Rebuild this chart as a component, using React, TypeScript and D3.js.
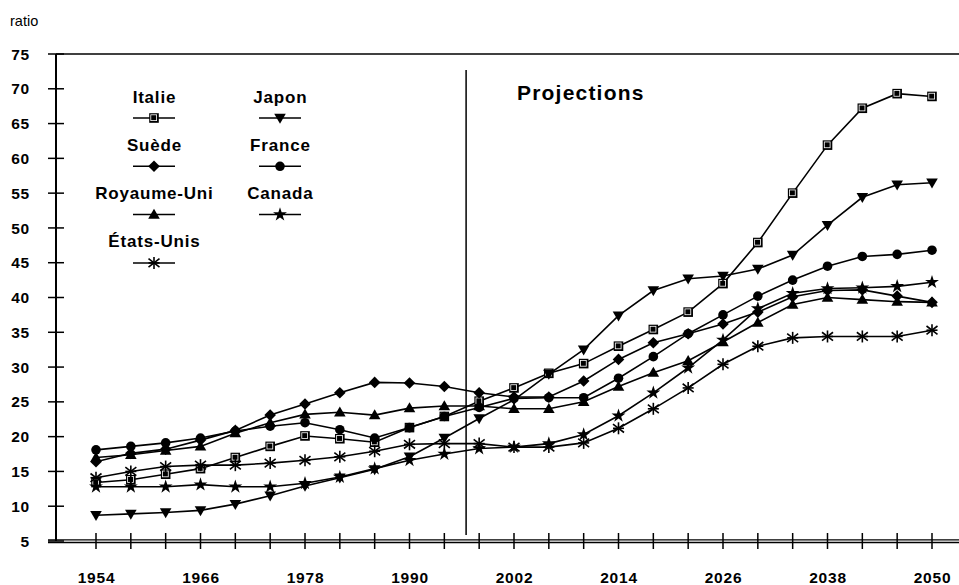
import React from "react";
import * as d3 from "d3";

const years = [1954, 1958, 1962, 1966, 1970, 1974, 1978, 1982, 1986, 1990, 1994, 1998, 2002, 2006, 2010, 2014, 2018, 2022, 2026, 2030, 2034, 2038, 2042, 2046, 2050];

const italie = [13.4, 13.8, 14.6, 15.4, 17.0, 18.6, 20.1, 19.7, 19.2, 21.3, 22.9, 25.1, 27.0, 29.1, 30.5, 33.0, 35.4, 37.9, 42.0, 47.9, 55.0, 61.9, 67.2, 69.3, 68.9];
const japon = [8.7, 8.9, 9.1, 9.4, 10.3, 11.5, 12.9, 14.1, 15.3, 17.1, 19.8, 22.6, 25.3, 29.0, 32.5, 37.4, 41.0, 42.7, 43.1, 44.1, 46.1, 50.4, 54.4, 56.2, 56.5];
const suede = [16.4, 17.6, 18.2, 19.5, 20.9, 23.1, 24.7, 26.3, 27.8, 27.7, 27.2, 26.3, 25.7, 25.7, 28.0, 31.1, 33.5, 34.8, 36.2, 37.9, 40.1, 41.0, 41.1, 40.2, 39.3];
const france = [18.1, 18.6, 19.1, 19.8, 20.8, 21.5, 22.0, 21.0, 19.8, 21.3, 22.9, 24.2, 25.5, 25.6, 25.6, 28.4, 31.5, 34.8, 37.5, 40.2, 42.5, 44.5, 45.9, 46.2, 46.8];
const royaumeUni = [17.0, 17.4, 18.0, 18.6, 20.5, 22.0, 23.2, 23.5, 23.1, 24.1, 24.4, 24.4, 24.0, 24.0, 25.0, 27.2, 29.2, 30.9, 33.6, 36.4, 39.0, 40.0, 39.7, 39.4, 39.3];
const canada = [12.8, 12.8, 12.8, 13.1, 12.8, 12.8, 13.3, 14.2, 15.4, 16.6, 17.5, 18.3, 18.5, 19.0, 20.3, 23.0, 26.3, 29.9, 33.9, 38.4, 40.6, 41.3, 41.4, 41.6, 42.2];
const etatsUnis = [14.1, 15.0, 15.7, 15.9, 15.9, 16.2, 16.6, 17.1, 17.9, 18.9, 19.0, 19.0, 18.5, 18.5, 19.1, 21.2, 24.0, 27.0, 30.4, 33.0, 34.2, 34.4, 34.4, 34.4, 35.3];

const yTicks = [5, 10, 15, 20, 25, 30, 35, 40, 45, 50, 55, 60, 65, 70, 75];
const xLabelYears = [1954, 1966, 1978, 1990, 2002, 2014, 2026, 2038, 2050];
const projectionYear = 1996.5;

type Sym = "square" | "triDown" | "diamond" | "circle" | "triUp" | "star" | "asterisk";

const series: { name: string; values: number[]; sym: Sym }[] = [
  { name: "Italie", values: italie, sym: "square" },
  { name: "Japon", values: japon, sym: "triDown" },
  { name: "Suède", values: suede, sym: "diamond" },
  { name: "France", values: france, sym: "circle" },
  { name: "Royaume-Uni", values: royaumeUni, sym: "triUp" },
  { name: "Canada", values: canada, sym: "star" },
  { name: "États-Unis", values: etatsUnis, sym: "asterisk" },
];

const legendCol1 = ["Italie", "Suède", "Royaume-Uni", "États-Unis"];
const legendCol2 = ["Japon", "France", "Canada"];

const FONT = "'Liberation Sans', Arial, Helvetica, sans-serif";

function Marker({ sym, x, y }: { sym: Sym; x: number; y: number }) {
  const t = `translate(${x},${y})`;
  switch (sym) {
    case "square":
      return (
        <g transform={t}>
          <rect x={-4.8} y={-4.8} width={9.6} height={9.6} fill="#000" />
          <rect x={-3.2} y={-3.2} width={5.8} height={5.8} fill="none" stroke="#fff" strokeWidth={0.8} />
        </g>
      );
    case "triDown":
      return <path transform={t} d="M-5.8,-4.2 L5.8,-4.2 L0,5.8 Z" fill="#000" />;
    case "triUp":
      return <path transform={t} d="M-5.8,4.2 L5.8,4.2 L0,-5.8 Z" fill="#000" />;
    case "diamond":
      return <path transform={t} d="M0,-5.8 L5.8,0 L0,5.8 L-5.8,0 Z" fill="#000" />;
    case "circle":
      return <circle cx={x} cy={y} r={4.8} fill="#000" />;
    case "star": {
      const p = d3.symbol(d3.symbolStar, 60)();
      return <path transform={t} d={p || ""} fill="#000" />;
    }
    case "asterisk":
      return (
        <g transform={t} stroke="#000" strokeWidth={1.6}>
          <line x1={0} y1={-6} x2={0} y2={6} />
          <line x1={-5.5} y1={-4.2} x2={5.5} y2={4.2} />
          <line x1={-5.5} y1={4.2} x2={5.5} y2={-4.2} />
          <line x1={-5.5} y1={0} x2={5.5} y2={0} />
        </g>
      );
  }
  return null;
}

export default function App() {
  const W = 959;
  const H = 585;
  const x = d3.scaleLinear().domain([1954, 2050]).range([96, 932]);
  const y = d3.scaleLinear().domain([5, 75]).range([541, 54]);
  const axisX = 56;

  const line = d3
    .line<number>()
    .x((_, i) => x(years[i]))
    .y((v) => y(v));

  const minorYears = d3.range(1954, 2051, 4);

  const legendItem = (name: string, cx: number, row: number) => {
    const s = series.find((d) => d.name === name)!;
    const ty = 97 + row * 48;
    const ly = 118 + row * 48.3;
    return (
      <g key={name}>
        <text x={cx + 0.4} y={ty} dy="0.35em" textAnchor="middle" fontFamily={FONT} fontWeight="bold" fontSize={17} letterSpacing={0.8}>
          {name}
        </text>
        <line x1={cx - 21} x2={cx + 21} y1={ly} y2={ly} stroke="#000" strokeWidth={1.5} />
        <Marker sym={s.sym} x={cx} y={ly} />
      </g>
    );
  };

  return (
    <svg width={W} height={H} style={{ position: "absolute", left: 0, top: 0, background: "#fff" }}>
      <rect width={W} height={H} fill="#fff" />
      <text x={10} y={26} fontFamily={FONT} fontSize={14.5}>
        ratio
      </text>

      {/* frame */}
      <line x1={axisX} x2={W} y1={y(75)} y2={y(75)} stroke="#000" strokeWidth={1.6} />
      <line x1={axisX} x2={axisX} y1={y(75)} y2={y(5)} stroke="#000" strokeWidth={2} />
      <line x1={48} x2={W} y1={y(5) - 1.2} y2={y(5) - 1.2} stroke="#000" strokeWidth={1.3} />
      <line x1={48} x2={W} y1={y(5) + 1.5} y2={y(5) + 1.5} stroke="#000" strokeWidth={1.3} />

      {/* y ticks */}
      {yTicks.map((t) => (
        <g key={t}>
          <line x1={48} x2={64} y1={y(t)} y2={y(t)} stroke="#000" strokeWidth={1.5} />
          <text x={30} y={y(t)} dy="0.36em" textAnchor="end" fontFamily={FONT} fontWeight="bold" fontSize={15.5} letterSpacing={0.8}>
            {t}
          </text>
        </g>
      ))}

      {/* x ticks */}
      {minorYears.map((yr) => (
        <line key={yr} x1={x(yr)} x2={x(yr)} y1={533} y2={549} stroke="#000" strokeWidth={1.5} />
      ))}
      {xLabelYears.map((yr) => (
        <text key={yr} x={x(yr) + 0.5} y={577} dy="0.36em" textAnchor="middle" fontFamily={FONT} fontWeight="bold" fontSize={15.5} letterSpacing={0.8}>
          {yr}
        </text>
      ))}

      {/* projection divider */}
      <line x1={x(projectionYear)} x2={x(projectionYear)} y1={70} y2={535} stroke="#000" strokeWidth={1.5} />
      <text x={517} y={93} dy="0.35em" fontFamily={FONT} fontWeight="bold" fontSize={21} letterSpacing={1.2}>
        Projections
      </text>

      {/* series */}
      {series.map((s) => (
        <g key={s.name}>
          <path d={line(s.values) || ""} fill="none" stroke="#000" strokeWidth={1.6} />
          {s.values.map((v, i) => (
            <Marker key={i} sym={s.sym} x={x(years[i])} y={y(v)} />
          ))}
        </g>
      ))}

      {/* legend */}
      {legendCol1.map((n, i) => legendItem(n, 154, i))}
      {legendCol2.map((n, i) => legendItem(n, 280, i))}
    </svg>
  );
}
